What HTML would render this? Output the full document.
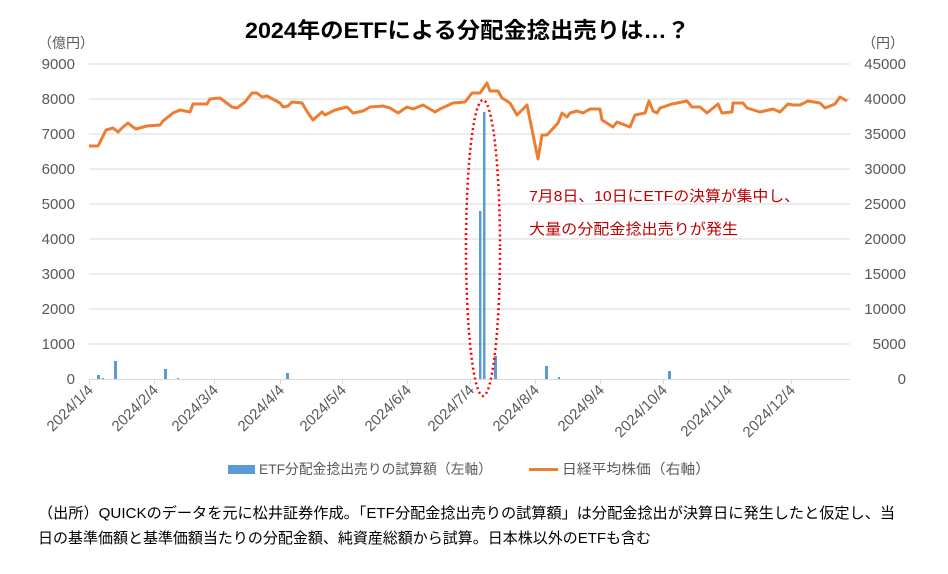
<!DOCTYPE html>
<html><head><meta charset="utf-8"><style>
body{margin:0;background:#fff;width:948px;height:569px;overflow:hidden}
svg text{font-family:"Liberation Sans","Noto Sans CJK JP",sans-serif}
</style></head><body>
<svg width="948" height="569" viewBox="0 0 948 569" xmlns="http://www.w3.org/2000/svg">
<text x="245" y="38" textLength="445" lengthAdjust="spacingAndGlyphs" font-size="22" font-weight="bold" fill="#000">2024年のETFによる分配金捻出売りは…？</text>
<g font-size="14" fill="#595959">
<text x="38" y="48">（億円）</text>
<text x="862" y="48">（円）</text>
</g>
<g stroke="#d9d9d9" stroke-width="1">
<line x1="89" y1="64" x2="850" y2="64"/><line x1="89" y1="99" x2="850" y2="99"/><line x1="89" y1="134" x2="850" y2="134"/>
<line x1="89" y1="169" x2="850" y2="169"/><line x1="89" y1="204" x2="850" y2="204"/><line x1="89" y1="239" x2="850" y2="239"/>
<line x1="89" y1="274" x2="850" y2="274"/><line x1="89" y1="309" x2="850" y2="309"/><line x1="89" y1="344" x2="850" y2="344"/>
<line x1="89" y1="379.5" x2="850" y2="379.5"/>
<line x1="89.5" y1="379" x2="89.5" y2="384"/><line x1="154.5" y1="379" x2="154.5" y2="384"/><line x1="214.5" y1="379" x2="214.5" y2="384"/>
<line x1="280.5" y1="379" x2="280.5" y2="384"/><line x1="342.5" y1="379" x2="342.5" y2="384"/><line x1="407.5" y1="379" x2="407.5" y2="384"/>
<line x1="470.5" y1="379" x2="470.5" y2="384"/><line x1="535.5" y1="379" x2="535.5" y2="384"/><line x1="600.5" y1="379" x2="600.5" y2="384"/>
<line x1="663.5" y1="379" x2="663.5" y2="384"/><line x1="728.5" y1="379" x2="728.5" y2="384"/><line x1="791.5" y1="379" x2="791.5" y2="384"/>
</g>
<g font-size="15" fill="#595959" text-anchor="end">
<text x="75" y="69">9000</text><text x="75" y="104">8000</text><text x="75" y="139">7000</text><text x="75" y="174">6000</text>
<text x="75" y="209">5000</text><text x="75" y="244">4000</text><text x="75" y="279">3000</text><text x="75" y="314">2000</text>
<text x="75" y="349">1000</text><text x="75" y="384">0</text>
</g>
<g font-size="15" fill="#595959" text-anchor="end">
<text x="906" y="69">45000</text><text x="906" y="104">40000</text><text x="906" y="139">35000</text><text x="906" y="174">30000</text>
<text x="906" y="209">25000</text><text x="906" y="244">20000</text><text x="906" y="279">15000</text><text x="906" y="314">10000</text>
<text x="906" y="349">5000</text><text x="906" y="384">0</text>
</g>
<g font-size="15" fill="#595959" text-anchor="end">
<text transform="translate(94,391) rotate(-45)">2024/1/4</text>
<text transform="translate(159,391) rotate(-45)">2024/2/4</text>
<text transform="translate(219,391) rotate(-45)">2024/3/4</text>
<text transform="translate(285,391) rotate(-45)">2024/4/4</text>
<text transform="translate(347,391) rotate(-45)">2024/5/4</text>
<text transform="translate(412,391) rotate(-45)">2024/6/4</text>
<text transform="translate(475,391) rotate(-45)">2024/7/4</text>
<text transform="translate(540,391) rotate(-45)">2024/8/4</text>
<text transform="translate(605,391) rotate(-45)">2024/9/4</text>
<text transform="translate(668,391) rotate(-45)">2024/10/4</text>
<text transform="translate(733,391) rotate(-45)">2024/11/4</text>
<text transform="translate(796,391) rotate(-45)">2024/12/4</text>
</g>
<g fill="#5b9bd5">
<rect x="97" y="375" width="3" height="4"/><rect x="102" y="378" width="2" height="1"/>
<rect x="114" y="361" width="3" height="18"/><rect x="164" y="369" width="3" height="10"/>
<rect x="177" y="378" width="2" height="1"/><rect x="286" y="373" width="3" height="6"/>
<rect x="479" y="211" width="2.5" height="168"/><rect x="483" y="112" width="2.5" height="267"/>
<rect x="494" y="356" width="3" height="23"/><rect x="490" y="378" width="2" height="1"/>
<rect x="545" y="366" width="3" height="13"/><rect x="558" y="377" width="2" height="2"/>
<rect x="668" y="371" width="3" height="8"/>
</g>
<polyline fill="none" stroke="#ed7d31" stroke-width="3" stroke-linejoin="round" points="89,146 98,146 106,130 113,128 118,132 123,127 128,123 133,127 136,129 147,126 160,125 163,121 173,113 180,110 190,112 193,104 207,104 210,99 220,98 232,107 237,108 245,102 252,93 257,93 262,97 267,96 280,103 283,107 288,106 292,102 302,103 308,113 313,120 322,112 325,115 335,110 347,107 353,113 363,111 370,107 383,106 390,108 398,113 407,107 413,109 423,105 435,112 440,109 453,103 465,102 472,93 480,93 487,83 490,91 498,91 502,98 510,103 517,115 527,105 538,159 542,135 547,135 558,123 562,113 567,117 570,113 577,111 583,113 590,109 600,109 602,120 613,127 617,122 630,127 635,115 645,113 649,101 653,111 657,113 660,108 672,104 687,101 692,107 700,107 707,113 718,104 722,113 732,112 733,103 743,103 747,108 760,112 773,109 780,112 788,104 793,105 800,105 808,101 820,103 825,108 835,104 840,97 847,101"/>
<ellipse cx="483" cy="248" rx="17" ry="148" fill="none" stroke="#ff0000" stroke-width="2.5" stroke-dasharray="2,3"/>
<g font-size="15" fill="#c00000">
<text x="529" y="201" textLength="271" lengthAdjust="spacingAndGlyphs">7月8日、10日にETFの決算が集中し、</text>
<text x="529" y="234" textLength="209" lengthAdjust="spacingAndGlyphs">大量の分配金捻出売りが発生</text>
</g>
<rect x="228" y="465" width="27" height="9" fill="#5b9bd5"/>
<line x1="529" y1="469.5" x2="558" y2="469.5" stroke="#ed7d31" stroke-width="3"/>
<g font-size="14" fill="#595959">
<text x="259" y="474" textLength="233" lengthAdjust="spacingAndGlyphs">ETF分配金捻出売りの試算額（左軸）</text>
<text x="562" y="474" textLength="148" lengthAdjust="spacingAndGlyphs">日経平均株価（右軸）</text>
</g>
<g font-size="15" fill="#000">
<text x="38" y="518" textLength="857" lengthAdjust="spacingAndGlyphs">（出所）QUICKのデータを元に松井証券作成。「ETF分配金捻出売りの試算額」は分配金捻出が決算日に発生したと仮定し、当</text>
<text x="38" y="543" textLength="613" lengthAdjust="spacingAndGlyphs">日の基準価額と基準価額当たりの分配金額、純資産総額から試算。日本株以外のETFも含む</text>
</g>
</svg>
</body></html>
